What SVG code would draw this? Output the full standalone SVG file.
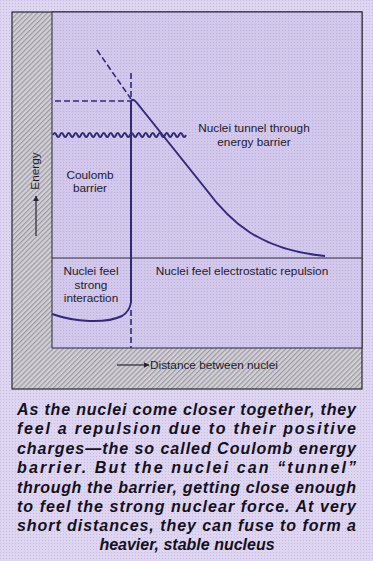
<svg xmlns="http://www.w3.org/2000/svg" width="373" height="561" viewBox="0 0 373 561">
<defs>
<pattern id="hatch" width="3.5" height="3.5" patternUnits="userSpaceOnUse" patternTransform="rotate(45)">
<rect width="3.5" height="3.5" fill="#d2d0d6"/>
<rect width="1.2" height="3.5" fill="#9c99a3"/>
</pattern>
<pattern id="grid" width="3" height="3" patternUnits="userSpaceOnUse">
<rect width="3" height="3" fill="#d2c8ec"/>
<rect width="1" height="1" fill="#bcb0df"/>
</pattern>
<pattern id="bgdots" width="3" height="3" patternUnits="userSpaceOnUse">
<rect width="3" height="3" fill="#ded6f0"/>
<rect width="1" height="1" fill="#c6bbe2"/>
</pattern>
<marker id="ah" viewBox="0 0 10 10" refX="9" refY="5" markerWidth="6" markerHeight="6" orient="auto" markerUnits="userSpaceOnUse">
<path d="M0,0 L10,5 L0,10 z" fill="#2a2535"/>
</marker>
<style>
.lbl{font-family:"Liberation Sans",Arial,sans-serif;font-size:11.8px;fill:#1e1a2c}
.cap{font-family:"Liberation Sans",Arial,sans-serif;font-size:16px;font-weight:bold;font-style:italic;fill:#141020}
.curve{fill:none;stroke:#33287a;stroke-width:2}
.dash{fill:none;stroke:#33287a;stroke-width:1.6;stroke-dasharray:6 3}
.thin{fill:none;stroke:#2e2a3e;stroke-width:1}
</style>
</defs>
<rect width="373" height="561" fill="url(#bgdots)"/>
<g id="frame">
<rect x="12" y="12" width="350" height="377" fill="url(#hatch)" stroke="#2a2535" stroke-width="1.2"/>
<rect x="52" y="12" width="310" height="336" fill="url(#grid)" stroke="#2a2535" stroke-width="1"/>
<line class="thin" x1="52" y1="258" x2="362" y2="258"/>
</g>
<g id="connectors">
<line class="dash" x1="97" y1="50" x2="131" y2="99"/>
<line class="dash" x1="55" y1="101" x2="130" y2="101"/>
<line class="dash" x1="131" y1="73" x2="131" y2="99"/>
<line class="dash" x1="131" y1="310" x2="131" y2="348"/>
<path class="curve" d="M52,314 C75,322 105,324 122,316 Q130,311 131,302 L131,101 Q133,98 137,103 L205,188 C230,222 260,250 325,256"/>
<path class="curve" stroke-width="1.8" d="M53,135 q1.75,-4 3.5,0 t3.5,0 t3.5,0 t3.5,0 t3.5,0 t3.5,0 t3.5,0 t3.5,0 t3.5,0 t3.5,0 t3.5,0 t3.5,0 t3.5,0 t3.5,0 t3.5,0 t3.5,0 t3.5,0 t3.5,0 t3.5,0 t3.5,0 t3.5,0 t3.5,0 t3.5,0 t3.5,0 t3.5,0 t3.5,0 t3.5,0 t3.5,0 t3.5,0 t3.5,0 t3.5,0 t3.5,0 t3.5,0 t3.5,0 t3.5,0 t3.5,0 t3.5,0 t3.5,0"/>
<line stroke="#2a2535" stroke-width="1.2" x1="36" y1="236" x2="36" y2="196" marker-end="url(#ah)"/>
<line stroke="#2a2535" stroke-width="1.2" x1="117" y1="365" x2="149" y2="365" marker-end="url(#ah)"/>
</g>
<g id="labels">
<text class="lbl" x="254" y="132" text-anchor="middle">Nuclei tunnel through</text>
<text class="lbl" x="254" y="146" text-anchor="middle">energy barrier</text>
<text class="lbl" x="90" y="179" text-anchor="middle">Coulomb</text>
<text class="lbl" x="90" y="192" text-anchor="middle">barrier</text>
<text class="lbl" transform="translate(39,171) rotate(-90)" text-anchor="middle">Energy</text>
<text class="lbl" x="91" y="275" text-anchor="middle">Nuclei feel</text>
<text class="lbl" x="91" y="289" text-anchor="middle">strong</text>
<text class="lbl" x="91" y="302" text-anchor="middle">interaction</text>
<text class="lbl" x="242" y="275" text-anchor="middle">Nuclei feel electrostatic repulsion</text>
<text class="lbl" x="150" y="369">Distance between nuclei</text>
</g>
<g id="caption">
<text class="cap" x="17" y="415" textLength="339" lengthAdjust="spacing">As the nuclei come closer together, they</text>
<text class="cap" x="17" y="434" textLength="339" lengthAdjust="spacing">feel a repulsion due to their positive</text>
<text class="cap" x="17" y="454" textLength="339" lengthAdjust="spacing">charges—the so called Coulomb energy</text>
<text class="cap" x="17" y="473" textLength="339" lengthAdjust="spacing">barrier. But the nuclei can “tunnel”</text>
<text class="cap" x="17" y="493" textLength="339" lengthAdjust="spacing">through the barrier, getting close enough</text>
<text class="cap" x="17" y="512" textLength="339" lengthAdjust="spacing">to feel the strong nuclear force. At very</text>
<text class="cap" x="17" y="531" textLength="339" lengthAdjust="spacing">short distances, they can fuse to form a</text>
<text class="cap" x="187" y="550" text-anchor="middle">heavier, stable nucleus</text>
</g>
</svg>
